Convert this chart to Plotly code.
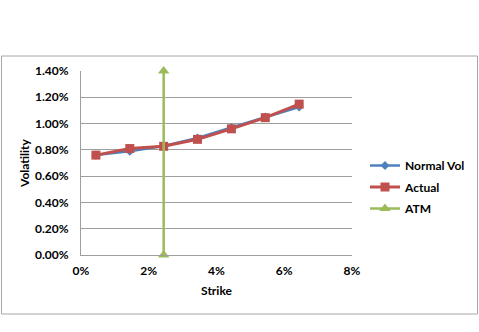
import plotly.graph_objects as go

strike = [0.0044, 0.0144, 0.0244, 0.0344, 0.0444, 0.0544, 0.0644]
normal_vol = [0.0076, 0.0079, 0.0083, 0.0089, 0.0097, 0.0105, 0.01126]
actual = [0.0076, 0.0081, 0.00827, 0.0088, 0.0096, 0.01045, 0.01148]
atm_x = [0.0244, 0.0244]
atm_y = [0.0, 0.014]

FONT = "Lato"
fig = go.Figure()
fig.add_trace(go.Scatter(x=strike, y=normal_vol, name="Normal Vol", mode="lines+markers",
                         legendgroup="a",
                         line=dict(color="#4F81BD", width=2.5),
                         marker=dict(symbol="diamond", size=7, color="#4F81BD")))
fig.add_trace(go.Scatter(x=strike, y=actual, name="Actual", mode="lines+markers",
                         legendgroup="b",
                         line=dict(color="#C0504D", width=3),
                         marker=dict(symbol="square", size=9, color="#C0504D")))
fig.add_trace(go.Scatter(x=atm_x, y=atm_y, name="ATM", mode="lines+markers",
                         legendgroup="c",
                         line=dict(color="#9BBB59", width=2.5),
                         marker=dict(symbol="triangle-up", size=10, color="#9BBB59"),
                         cliponaxis=False))

W, H = 479, 332
l, r, t, b = 81, 127, 71, 77
pw, ph = W - l - r, H - t - b

def px(x):
    return (x - l) / pw

def py(y):
    return (H - b - y) / ph

fig.update_layout(
    width=W, height=H,
    margin=dict(l=l, r=r, t=t, b=b, autoexpand=False),
    paper_bgcolor="white", plot_bgcolor="white",
    font=dict(family=FONT, size=12, color="black"),
    showlegend=True,
    legend=dict(x=px(365), y=py(151), xanchor="left", yanchor="top",
                font=dict(family=FONT, size=12, color="black", weight="bold"),
                tracegroupgap=2.5, itemwidth=30, bgcolor="rgba(0,0,0,0)"),
    xaxis=dict(range=[0, 0.08], tickvals=[0, 0.02, 0.04, 0.06, 0.08],
               ticktext=["0%", "2%", "4%", "6%", "8%"], automargin=False,
               showgrid=False, zeroline=False, showline=True, linecolor="#9e9e9e", linewidth=1,
               ticks="", ticklabelstandoff=5, tickfont=dict(family=FONT, size=12, weight="bold"),
               title=dict(text="Strike", font=dict(family=FONT, size=12, weight="bold"), standoff=9)),
    yaxis=dict(range=[0, 0.014], tickvals=[0, 0.002, 0.004, 0.006, 0.008, 0.01, 0.012, 0.014],
               ticktext=["0.00%", "0.20%", "0.40%", "0.60%", "0.80%", "1.00%", "1.20%", "1.40%"],
               showgrid=True, gridcolor="#9e9e9e", gridwidth=1, zeroline=False, automargin=False,
               showline=True, linecolor="#9e9e9e", linewidth=1, ticks="", ticklabelstandoff=9,
               tickfont=dict(family=FONT, size=12, weight="bold"),
               title=dict(text="Volatility", font=dict(family=FONT, size=12, weight="bold"), standoff=2)),
    shapes=[dict(type="rect", xref="paper", yref="paper",
                 x0=px(1.5), x1=px(477.5), y0=py(314), y1=py(56),
                 line=dict(color="#a6a6a6", width=1), layer="below")],
)
fig.write_html("out.html", config={"displayModeBar": False},
               post_script="document.body.style.margin='0';")
